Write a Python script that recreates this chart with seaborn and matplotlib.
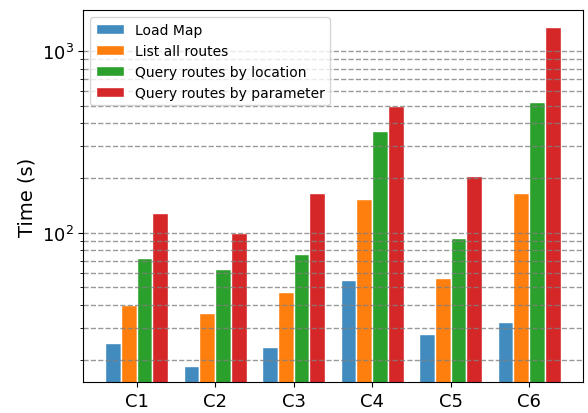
import numpy as np
import pandas as pd
import seaborn as sns
import matplotlib
matplotlib.use("Agg")
import matplotlib.pyplot as plt
from matplotlib.ticker import NullFormatter

# values (seconds)
configs = ["C1", "C2", "C3", "C4", "C5", "C6"]
tasks = ["Load Map", "List all routes", "Query routes by location", "Query routes by parameter"]
load_map = [24.8, 18.5, 23.6, 55.0, 27.7, 32.3]
list_routes = [40.1, 36.2, 47.2, 153, 56.4, 165]
by_location = [72.6, 63.0, 76.4, 362, 93.5, 522]
by_parameter = [128, 100, 165, 497, 205, 1350]
colors = ["#418bbf", "#ff7f0e", "#2ca02c", "#d62728"]

rows = []
for task, vals in zip(tasks, [load_map, list_routes, by_location, by_parameter]):
    for c, v in zip(configs, vals):
        rows.append({"Config": c, "Task": task, "Time": v})
df = pd.DataFrame(rows)

fig = plt.figure(figsize=(5.88, 4.14), dpi=100)
ax = fig.add_axes([0.1417, 0.075, 0.8503, 0.898])

sns.barplot(
    data=df, x="Config", y="Time", hue="Task", hue_order=tasks, order=configs,
    palette=colors, saturation=1, width=0.8, edgecolor="white", linewidth=1,
    ax=ax, errorbar=None,
)

ax.set_yscale("log")
ax.set_ylim(15.1, 1675)
ax.set_xlim(-0.68, 5.69)
ax.yaxis.set_minor_formatter(NullFormatter())
ax.grid(which="both", axis="y", linestyle="--", color="gray", alpha=0.8, linewidth=1)
ax.set_xlabel("")
ax.set_ylabel("Time (s)", fontsize=14)
ax.tick_params(axis="both", which="major", labelsize=13)
ax.legend(loc="upper left", fontsize=10, frameon=True)

fig.savefig("out.png", dpi=100)
